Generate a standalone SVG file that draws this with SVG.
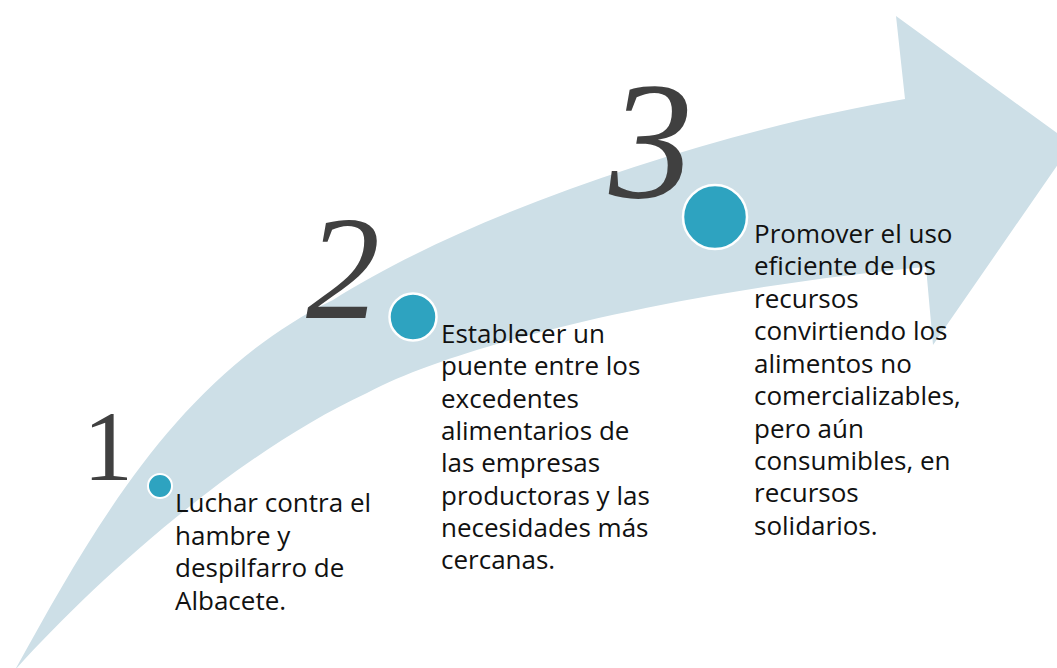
<svg xmlns="http://www.w3.org/2000/svg" width="1057" height="668" viewBox="0 0 1057 668">
<style>
.band{fill:#cddfe7}
.dot{fill:#2ea3c0;stroke:#ffffff}
.num{fill:#404040;font-family:"Liberation Serif","DejaVu Serif",serif}
.txt{fill:#111111;font-family:"Open Sans","Noto Sans",sans-serif;font-size:26px}
</style>
<rect width="1057" height="668" fill="#ffffff"/>
<g id="arrow">
<path class="band" d="M15,670 C95,525 180,375 333,300 C475,210 720,130 905,99 L896,16 L1072,144 L933,345 L926,267 C726,285 477,335 367,393 C237,453 97,579 15,670 Z"/>
</g>
<g id="step1">
<text class="num" x="83" y="480" font-size="100">1</text>
<circle class="dot" cx="160" cy="486" r="12" stroke-width="2"/>
<text class="txt"><tspan x="175" y="512">Luchar contra el</tspan><tspan x="175" y="545">hambre y</tspan><tspan x="175" y="577">despilfarro de</tspan><tspan x="175" y="610">Albacete.</tspan></text>
</g>
<g id="step2">
<text class="num" x="343" y="318" font-size="148" font-style="italic" text-anchor="middle">2</text>
<circle class="dot" cx="413" cy="317" r="23.5" stroke-width="2.5"/>
<text class="txt"><tspan x="441" y="343">Establecer un</tspan><tspan x="441" y="375">puente entre los</tspan><tspan x="441" y="408">excedentes</tspan><tspan x="441" y="440">alimentarios de</tspan><tspan x="441" y="472">las empresas</tspan><tspan x="441" y="505">productoras y las</tspan><tspan x="441" y="537">necesidades más</tspan><tspan x="441" y="569">cercanas.</tspan></text>
</g>
<g id="step3">
<text class="num" x="651" y="197" font-size="168" font-style="italic" text-anchor="middle">3</text>
<circle class="dot" cx="715" cy="217" r="32" stroke-width="2.5"/>
<text class="txt"><tspan x="754" y="243">Promover el uso</tspan><tspan x="754" y="275">eficiente de los</tspan><tspan x="754" y="308">recursos</tspan><tspan x="754" y="340">convirtiendo los</tspan><tspan x="754" y="373">alimentos no</tspan><tspan x="754" y="405">comercializables,</tspan><tspan x="754" y="438">pero aún</tspan><tspan x="754" y="470">consumibles, en</tspan><tspan x="754" y="502">recursos</tspan><tspan x="754" y="535">solidarios.</tspan></text>
</g>
<g id="connectors"/>
</svg>
